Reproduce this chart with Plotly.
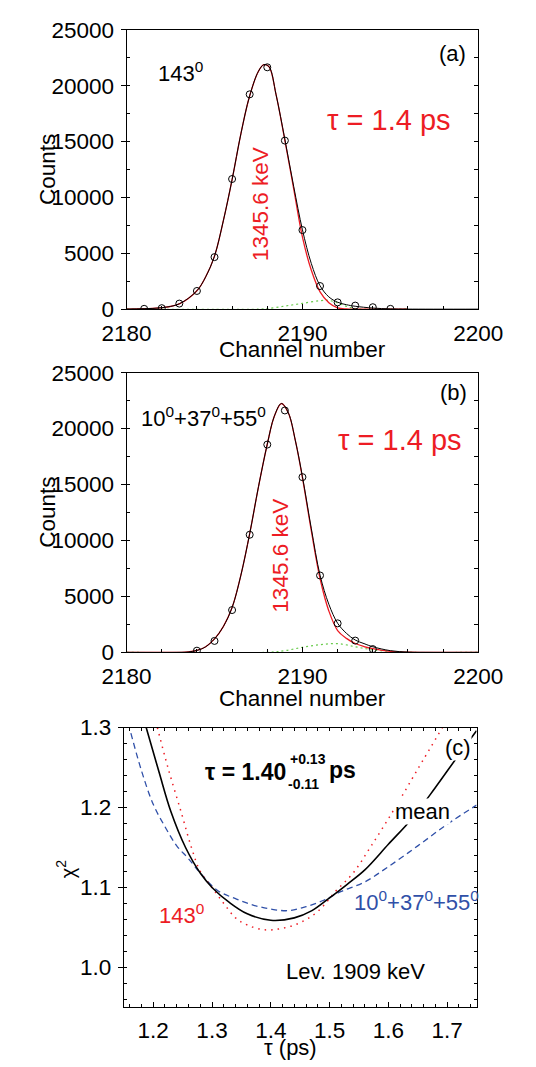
import plotly.graph_objects as go

W, H = 536, 1067
FONT = "Liberation Sans, Arial, sans-serif"
RED = "#ED1C24"
BLUE = "#3050A8"
GREEN = "#6ACB4E"

# ---------------- Panel (a): 143 deg ----------------
a_ch = [2181, 2182, 2183, 2184, 2185, 2186, 2187, 2188, 2189, 2190, 2191, 2192, 2193, 2194, 2195]
a_counts = [30, 90, 500, 1630, 4660, 11650, 19230, 21650, 15090, 7080, 2070, 610, 320, 175, 30]

a_fit_ch = [2180, 2181, 2182, 2183, 2184, 2184.5, 2185, 2185.5, 2186, 2186.5, 2187, 2187.5, 2187.8,
            2188.1, 2188.5, 2189, 2189.5, 2190, 2190.5, 2191, 2191.5, 2192, 2192.5, 2193, 2194,
            2195, 2196, 2200]
a_fit = [10, 45, 130, 480, 1650, 2900, 4750, 7900, 11600, 15700, 19100, 21300, 21880,
         21700, 19200, 15200, 11000, 7100, 4100, 2100, 1100, 620, 400, 260, 100,
         25, 5, 0]

a_peak_ch = [2180, 2181, 2182, 2183, 2184, 2184.5, 2185, 2185.5, 2186, 2186.5, 2187, 2187.5, 2187.8,
             2188.1, 2188.5, 2189, 2189.5, 2190, 2190.5, 2191, 2191.5, 2192, 2192.5, 2193, 2196]
a_peak = [10, 45, 130, 480, 1650, 2900, 4750, 7900, 11600, 15700, 19100, 21300, 21880,
          21700, 19200, 15100, 10800, 6450, 3500, 1550, 580, 120, 20, 0, 0]

a_bg_ch = [2180, 2187.5, 2188, 2189, 2190, 2191, 2191.5, 2192, 2192.5, 2193, 2193.5, 2196]
a_bg = [0, 0, 50, 280, 520, 760, 790, 560, 250, 60, 0, 0]

# ---------------- Panel (b): 10+37+55 deg ----------------
b_ch = [2184, 2185, 2186, 2187, 2188, 2189, 2190, 2191, 2192, 2193, 2194]
b_counts = [150, 1020, 3780, 10510, 18570, 21620, 15660, 6870, 2590, 1050, 290]

b_fit_ch = [2180, 2183, 2183.5, 2184, 2184.5, 2185, 2185.5, 2186, 2186.5, 2187, 2187.5, 2188,
            2188.4, 2188.8, 2189.2, 2189.6, 2190, 2190.5, 2191, 2191.5, 2192, 2192.5, 2193,
            2193.5, 2194, 2195, 2196, 2197, 2200]
b_fit = [0, 0, 30, 170, 500, 1200, 2300, 4000, 6900, 10600, 14800, 18600,
         21100, 22240, 21400, 18900, 15700, 11100, 6900, 4300, 2600, 1700, 1100,
         780, 500, 150, 20, 0, 0]

b_peak_ch = b_fit_ch
b_peak = [0, 0, 30, 170, 500, 1200, 2300, 4000, 6900, 10600, 14800, 18600,
          21100, 22240, 21400, 18900, 15600, 10900, 6600, 3700, 1950, 1250, 790,
          520, 330, 80, 10, 0, 0]

b_bg_ch = [2180, 2188, 2189, 2190, 2191, 2192, 2193, 2194, 2195, 2196, 2200]
b_bg = [0, 0, 150, 450, 680, 780, 500, 220, 80, 0, 0]

# ---------------- Panel (c): chi^2 vs tau ----------------
mean_tau = [1.188, 1.21, 1.23, 1.255, 1.28, 1.30, 1.33, 1.36, 1.40, 1.44, 1.47, 1.50, 1.53,
            1.56, 1.60, 1.64, 1.68, 1.72, 1.75]
mean_chi = [1.300, 1.244, 1.195, 1.150, 1.118, 1.100, 1.081, 1.067, 1.059, 1.062, 1.071, 1.087,
            1.104, 1.122, 1.154, 1.186, 1.225, 1.266, 1.296]

fwd_tau = [1.207, 1.225, 1.248, 1.265, 1.28, 1.30, 1.32, 1.34, 1.36, 1.39, 1.42, 1.45, 1.48,
           1.51, 1.54, 1.57, 1.61, 1.65, 1.692]
fwd_chi = [1.300, 1.250, 1.193, 1.150, 1.120, 1.100, 1.080, 1.062, 1.053, 1.047, 1.049, 1.056,
           1.070, 1.095, 1.118, 1.151, 1.198, 1.248, 1.300]

sum_tau = [1.162, 1.18, 1.20, 1.22, 1.24, 1.26, 1.28, 1.31, 1.34, 1.37, 1.40, 1.43, 1.46,
           1.49, 1.52, 1.56, 1.60, 1.65, 1.70, 1.75]
sum_chi = [1.293, 1.246, 1.204, 1.176, 1.152, 1.136, 1.118, 1.096, 1.086, 1.078, 1.073, 1.071,
           1.076, 1.084, 1.095, 1.107, 1.126, 1.152, 1.179, 1.203]

a_xticks = [2180, 2190, 2200]
c_xticks = [1.2, 1.3, 1.4, 1.5, 1.6, 1.7]
c_yticks = [1.0, 1.1, 1.2, 1.3]


def px(x):
    return x / W


def py(y):
    return 1 - y / H


fig = go.Figure()


def spectrum(xa, ya, ch, counts, fch, fit, pch, peak, gch, bg):
    fig.add_trace(go.Scatter(x=gch, y=bg, mode="lines", line=dict(color=GREEN, width=1.2, dash="2px,3px"),
                             line_shape="spline", xaxis=xa, yaxis=ya, showlegend=False))
    fig.add_trace(go.Scatter(x=pch, y=peak, mode="lines", line=dict(color=RED, width=1.3),
                             line_shape="spline", xaxis=xa, yaxis=ya, showlegend=False))
    fig.add_trace(go.Scatter(x=fch, y=fit, mode="lines", line=dict(color="black", width=1.0),
                             line_shape="spline", xaxis=xa, yaxis=ya, showlegend=False))
    fig.add_trace(go.Scatter(x=ch, y=counts, mode="markers",
                             marker=dict(symbol="circle-open", size=7, color="black", line=dict(width=1)),
                             xaxis=xa, yaxis=ya, showlegend=False))


spectrum("x", "y", a_ch, a_counts, a_fit_ch, a_fit, a_peak_ch, a_peak, a_bg_ch, a_bg)
spectrum("x2", "y2", b_ch, b_counts, b_fit_ch, b_fit, b_peak_ch, b_peak, b_bg_ch, b_bg)

fig.add_trace(go.Scatter(x=sum_tau, y=sum_chi, mode="lines", line_shape="spline",
                         line=dict(color=BLUE, width=1.3, dash="6px,4px"), xaxis="x3", yaxis="y3", showlegend=False))
fig.add_trace(go.Scatter(x=fwd_tau, y=fwd_chi, mode="lines", line_shape="spline",
                         line=dict(color=RED, width=1.5, dash="1.5px,5px"), xaxis="x3", yaxis="y3", showlegend=False))
fig.add_trace(go.Scatter(x=mean_tau, y=mean_chi, mode="lines", line_shape="spline",
                         line=dict(color="black", width=1.6), xaxis="x3", yaxis="y3", showlegend=False))

# invisible traces to hold the tick-only overlay axes
for xa, ya in [("x", "y4"), ("x2", "y5"), ("x3", "y6"), ("x4", "y3")]:
    fig.add_trace(go.Scatter(x=[None], y=[None], xaxis=xa, yaxis=ya, showlegend=False, hoverinfo="skip"))

TS = 22.5
tickfont = dict(family=FONT, size=TS, color="black")
common = dict(showline=True, mirror=True, linecolor="black", linewidth=1, showgrid=False,
              zeroline=False, tickcolor="black", tickfont=tickfont)

xdom = [px(112), px(500)]
xdom_c = [px(109), px(498)]
ydom_a = [py(304.3), py(18.3)]
ydom_b = [py(655.7), py(369.3)]
ydom_c = [py(1019.3), py(732.7)]

xspec = dict(range=[2180, 2200], tickvals=a_xticks, ticks="inside", ticklen=5, tickformat="d",
             ticklabelstandoff=4,
             minor=dict(dtick=2, tick0=2180, ticks="inside", ticklen=3, tickcolor="black"), **common)
yspec = dict(range=[0, 25000], dtick=5000, tick0=0, ticks="outside", ticklen=5, tickformat="d",
             ticklabelstandoff=2,
             minor=dict(dtick=2500, tick0=0, ticks="inside", ticklen=3, tickcolor="black"), **common)

right_spec = dict(side="right", range=[0, 25000], dtick=2500, tick0=0, ticks="inside", ticklen=4,
                  showticklabels=False, showgrid=False, zeroline=False, showline=False, tickcolor="black")

fig.update_layout(
    width=W, height=H, margin=dict(l=0, r=0, t=0, b=0), autosize=False,
    paper_bgcolor="white", plot_bgcolor="white", showlegend=False,
    font=dict(family=FONT, size=TS, color="black"),
    xaxis=dict(domain=xdom, anchor="y", **xspec),
    yaxis=dict(domain=ydom_a, anchor="x", **yspec),
    xaxis2=dict(domain=xdom, anchor="y2", **xspec),
    yaxis2=dict(domain=ydom_b, anchor="x2", **yspec),
    xaxis3=dict(domain=xdom_c, anchor="y3", range=[1.15, 1.75], tickvals=c_xticks, tickformat=".1f",
                ticks="inside", ticklen=5, ticklabelstandoff=3,
                minor=dict(dtick=0.02, tick0=1.0, ticks="inside", ticklen=3, tickcolor="black"), **common),
    yaxis3=dict(domain=ydom_c, anchor="x3", range=[0.95, 1.3], tickvals=c_yticks, tickformat=".1f",
                ticks="outside", ticklen=5, ticklabelstandoff=2,
                minor=dict(dtick=0.02, tick0=1.0, ticks="inside", ticklen=3, tickcolor="black"), **common),
    yaxis4=dict(overlaying="y", anchor="x", **right_spec),
    yaxis5=dict(overlaying="y2", anchor="x2", **right_spec),
    yaxis6=dict(overlaying="y3", anchor="x3", side="right", range=[0.95, 1.3], dtick=0.02, tick0=1.0,
                ticks="inside", ticklen=3, showticklabels=False, showgrid=False, zeroline=False,
                showline=False, tickcolor="black"),
    xaxis4=dict(overlaying="x3", anchor="y3", side="top", range=[1.15, 1.75], dtick=0.02, tick0=1.0,
                ticks="inside", ticklen=3, showticklabels=False, showgrid=False, zeroline=False,
                showline=False, tickcolor="black"),
)


def ann(text, x, y, size=TS, color="black", xanchor="center", yanchor="middle", angle=0, bg=None):
    d = dict(text=text, x=px(x), y=py(y), xref="paper", yref="paper", showarrow=False,
             xanchor=xanchor, yanchor=yanchor, textangle=angle,
             font=dict(family=FONT, size=size, color=color), borderpad=0)
    if bg:
        d["bgcolor"] = bg
    fig.add_annotation(**d)


# axis titles
ann("Counts", 24, 161, angle=-90)
ann("Counts", 24, 512, angle=-90)
ann("Channel number", 306, 346)
ann("Channel number", 306, 703)
ann("χ<sup>2</sup>", 45, 877, size=20, angle=-90)
ann("τ (ps)", 293, 1060, size=22)

# panel (a)
ann("143<sup>0</sup>", 146, 61, size=22, xanchor="left")
ann("(a)", 488, 43, size=22, xanchor="right")
ann("τ = 1.4 ps", 332, 111, size=29, color=RED, xanchor="left")
ann("1345.6 keV", 260, 197, color=RED, angle=-90)

# panel (b)
ann("10<sup>0</sup>+37<sup>0</sup>+55<sup>0</sup>", 127, 415, size=22, xanchor="left")
ann("(b)", 489, 390, size=22, xanchor="right")
ann("τ = 1.4 ps", 344, 438, size=29, color=RED, xanchor="left")
ann("1345.6 keV", 282, 557, color=RED, angle=-90)

# panel (c)
ann("<b>τ = 1.40</b>", 289, 778, size=23, xanchor="right")
ann("<b>+0.13</b>", 291, 765, size=14, xanchor="left")
ann("<b>-0.11</b>", 289, 791, size=14, xanchor="left")
ann("<b>ps</b>", 334, 776, size=23, xanchor="left")
ann("(c)", 477, 753, size=22, bg="white")
ann("mean", 438, 819, size=22, bg="white")
ann("10<sup>0</sup>+37<sup>0</sup>+55<sup>0</sup>", 362, 910, size=22, color=BLUE, xanchor="left")
ann("143<sup>0</sup>", 147, 924, size=22, color=RED, xanchor="left")
ann("Lev. 1909 keV", 287, 983, size=22, xanchor="left")

fig.write_html("out.html", config={"displayModeBar": False})
